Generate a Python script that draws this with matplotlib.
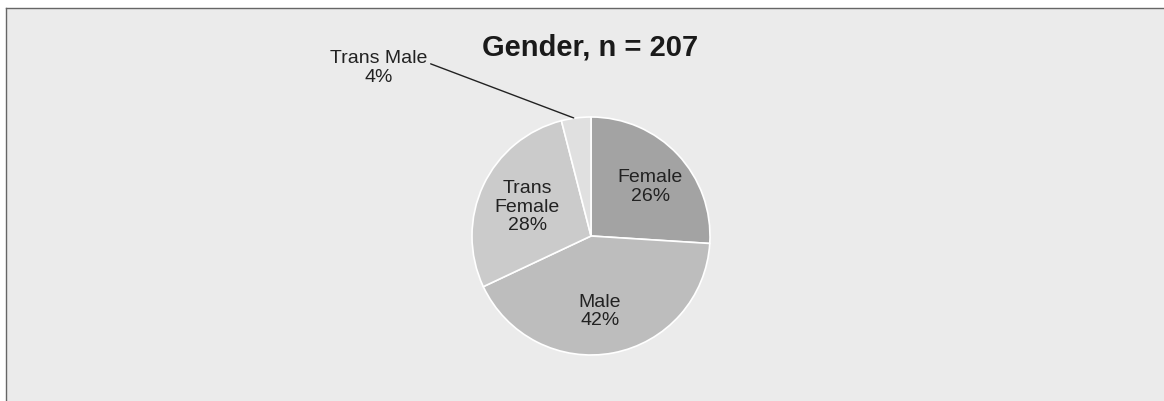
import matplotlib
matplotlib.use("Agg")
import matplotlib.pyplot as plt
import numpy as np

categories = ["Female", "Male", "Trans Female", "Trans Male"]
display_labels = ["Female", "Male", "Trans\nFemale", "Trans Male"]
percents = [26, 42, 28, 4]
colors = ["#a3a3a3", "#bdbdbd", "#cbcbcb", "#e0e0e0"]
title = "Gender, n = 207"

plt.rcParams["font.family"] = ["Liberation Sans", "DejaVu Sans"]

W, H = 1164, 402
fig = plt.figure(figsize=(W / 100, H / 100), dpi=100)
fig.patch.set_facecolor("white")

# background panel
bg = fig.add_axes([6 / W, 0, 1 - 6 / W, 1 - 9 / H])
bg.set_facecolor("#ebebeb")
bg.set_xticks([]); bg.set_yticks([])
for s in ["right", "bottom"]:
    bg.spines[s].set_visible(False)
for s in ["left", "top"]:
    bg.spines[s].set_linestyle((0, (1, 1)))
    bg.spines[s].set_color("#666666")
    bg.spines[s].set_linewidth(1.0)

cx, cy, R = 591, 237, 119
ax = fig.add_axes([(cx - R) / W, (H - cy - R) / H, 2 * R / W, 2 * R / H])

wedges, _ = ax.pie(percents, colors=colors, startangle=90, counterclock=False,
                   radius=1.0, wedgeprops=dict(edgecolor="white", linewidth=1.2))
ax.set_xlim(-1, 1); ax.set_ylim(-1, 1)
ax.set_aspect("equal")
ax.axis("off")

# in-slice label placement (radius fraction, angle offset in degrees)
inside = {0: (0.65, -3), 1: (0.63, -4), 2: (0.59, 0)}
for i, w in enumerate(wedges):
    text = f"{display_labels[i]}\n{percents[i]}%"
    if i in inside:
        r, off = inside[i]
        ang = np.deg2rad((w.theta1 + w.theta2) / 2 + off)
        ax.text(r * np.cos(ang), r * np.sin(ang), text, ha="center", va="center",
                fontsize=14, color="#222222", linespacing=1.1)
    else:
        ang = np.deg2rad((w.theta1 + w.theta2) / 2)
        x0, y0 = 1.0 * np.cos(ang), 1.0 * np.sin(ang)
        ax.annotate(text, xy=(x0 - 0.02, y0 + 0.0), xytext=(-1.78, 1.42),
                    ha="center", va="center", fontsize=14, color="#222222",
                    linespacing=1.1, annotation_clip=False,
                    arrowprops=dict(arrowstyle="-", color="#222222", lw=1.0,
                                    shrinkA=0, shrinkB=0,
                                    relpos=(1.0, 0.62)))

fig.text(590 / W, 1 - 47 / H, title, ha="center", va="center",
         fontsize=21, fontweight="bold", color="#1a1a1a")

fig.savefig("out.png", dpi=100)
